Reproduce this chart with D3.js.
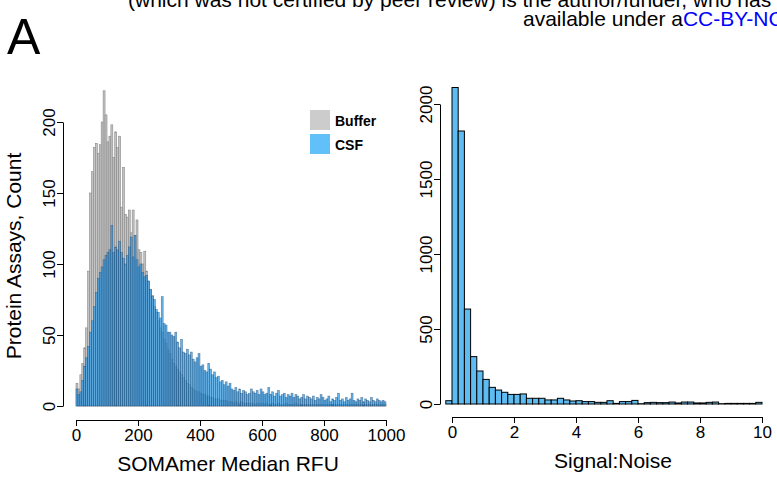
<!DOCTYPE html>
<html><head><meta charset="utf-8">
<script src="https://cdn.jsdelivr.net/npm/d3@7"></script>
<style>body{margin:0;background:#fff}svg{display:block}</style>
</head><body>
<svg id="c" width="777" height="480"></svg>
<script>
// Left histogram: SOMAmer Median RFU, bin width 6.25 from 0 to 1000
const rfuBinWidth = 6.25;
const bufferCounts = [16,12,22,30,41,55,95,150,165,182,185,178,184,200,222,205,186,190,198,175,
193,182,190,140,168,135,133,138,122,138,120,131,110,108,100,109,95,88,82,78,
70,66,60,55,52,47,44,40,37,33,30,28,26,24,22,20,18,16,15,13,
12,11,10,10,9,8,8,7,7,6,6,5,5,5,4,4,4,4,3,3,
3,2,3,2,2,3,2,2,2,2,2,2,1,2,2,1,2,1,2,1,
1,2,1,1,2,1,1,1,2,1,1,1,1,2,1,1,1,1,1,1,
1,1,1,1,1,1,1,1,1,1,1,1,1,1,1,1,1,1,1,1,
1,1,1,1,1,1,1,1,1,1,1,1,1,1,1,1,1,1,1,1];
const csfCounts = [12,8,10,18,28,34,42,52,60,70,80,90,94,98,103,106,108,110,127,108,
112,110,116,108,104,100,106,112,119,105,120,103,98,100,94,91,92,88,82,77,
75,68,66,62,77,58,57,52,52,50,49,52,45,41,47,38,37,40,36,38,
33,31,34,37,28,29,25,24,30,26,22,24,20,21,17,18,15,17,14,16,
12,11,13,10,12,9,11,10,8,9,12,10,9,11,8,12,10,8,9,13,
8,10,7,9,11,7,8,9,6,8,7,9,6,8,7,5,6,8,5,7,
6,5,7,4,6,5,8,6,4,5,7,3,5,4,6,9,4,5,3,6,
4,5,9,4,3,5,4,6,3,5,4,3,6,4,3,5,4,3,4,3];
const leftXTicks = [0,200,400,600,800,1000];
const leftYTicks = [0,50,100,150,200];
const legendLabels = ["Buffer","CSF"];

// Right histogram: Signal:Noise, bin width 0.2 from -0.2 to 10
const snStart = -0.2, snBinWidth = 0.2;
const snCounts = [22,2110,1820,633,316,220,164,111,93,78,64,64,67,38,38,38,27,27,38,27,
20,22,16,16,11,11,22,4,16,16,24,2,9,11,9,9,13,7,13,13,7,7,11,13,2,4,4,4,4,4,11];
const rightXTicks = [0,2,4,6,8,10];
const rightYTicks = [0,500,1000,1500,2000];

const svg = d3.select("#c");
const FONT = "'Liberation Sans', Arial, Helvetica, sans-serif";

// header
svg.append("text").attr("x",128).attr("y",7).attr("font-family",FONT)
  .attr("font-size",21).attr("fill","#000").text("(which was not certified by peer review) is the author/funder, who has");
const l2 = svg.append("text").attr("x",523).attr("y",26).attr("font-family",FONT)
  .attr("font-size",21).attr("fill","#000");
l2.append("tspan").text("available under a");
l2.append("tspan").attr("fill","#0000ff").text("CC-BY-NC-ND 4.0 International license");
svg.append("text").attr("x",7).attr("y",54).attr("font-family",FONT)
  .attr("font-size",50).attr("fill","#000").text("A");

// ---------- Left panel ----------
const xL = d3.scaleLinear().domain([0,1000]).range([76,386]);
const yL = d3.scaleLinear().domain([0,200]).range([406,122]);
const gL = svg.append("g");
function drawHist(counts, fill, stroke){
  gL.append("g").selectAll("rect").data(counts).join("rect")
    .attr("x",(d,i)=>xL(i*rfuBinWidth))
    .attr("width",(d,i)=>xL((i+1)*rfuBinWidth)-xL(i*rfuBinWidth))
    .attr("y",d=>yL(d)).attr("height",d=>yL(0)-yL(d))
    .attr("fill",fill).attr("stroke",stroke).attr("stroke-width",0.6);
}
drawHist(bufferCounts,"#c4c4c4","#888888");
drawHist(csfCounts,"rgba(55,155,225,0.75)","rgba(15,60,105,0.55)");

const fmt = d3.format("d");
function styleY(g, scale){
  g.selectAll("text").attr("font-family",FONT).attr("font-size",17).attr("fill","#000")
    .attr("text-anchor","middle").attr("dy",null).attr("transform","rotate(-90)")
    .attr("x",0).attr("y",-8);
}
// left y axis
const yAxL = svg.append("g").attr("transform","translate(63,0)")
  .call(d3.axisLeft(yL).tickValues(leftYTicks).tickFormat(fmt).tickSize(6).tickSizeOuter(0));
styleY(yAxL);

// left x axis
const xAxL = svg.append("g").attr("transform","translate(0,420)")
  .call(d3.axisBottom(xL).tickValues(leftXTicks).tickFormat(fmt).tickSize(6).tickSizeOuter(0));
xAxL.selectAll("text").attr("font-family",FONT).attr("font-size",17).attr("fill","#000").attr("y",9).attr("dy","0.71em");
svg.append("text").attr("x",228).attr("y",471).attr("text-anchor","middle").attr("font-family",FONT)
  .attr("font-size",21).text("SOMAmer Median RFU");
svg.append("text").attr("transform","translate(21,256) rotate(-90)").attr("text-anchor","middle")
  .attr("font-family",FONT).attr("font-size",21).text("Protein Assays, Count");

// legend
const legColors = ["#cccccc","#62c0f8"];
legendLabels.forEach((lab,i)=>{
  svg.append("rect").attr("x",310).attr("y",110+i*24).attr("width",20).attr("height",20).attr("fill",legColors[i]);
  svg.append("text").attr("x",335).attr("y",126+i*24).attr("font-family",FONT).attr("font-weight","bold")
    .attr("font-size",14).text(lab);
});

// ---------- Right panel ----------
const xR = d3.scaleLinear().domain([0,10]).range([452,762]);
const yR = d3.scaleLinear().domain([0,2000]).range([404,104]);
svg.append("g").selectAll("rect").data(snCounts).join("rect")
  .attr("x",(d,i)=>xR(snStart+i*snBinWidth))
  .attr("width",(d,i)=>xR(snStart+(i+1)*snBinWidth)-xR(snStart+i*snBinWidth))
  .attr("y",d=>yR(d)).attr("height",d=>yR(0)-yR(d))
  .attr("fill","#5ebcf2").attr("stroke","#000").attr("stroke-width",1);

const yAxR = svg.append("g").attr("transform","translate(440,0)")
  .call(d3.axisLeft(yR).tickValues(rightYTicks).tickFormat(fmt).tickSize(6).tickSizeOuter(0));
styleY(yAxR);
const xAxR = svg.append("g").attr("transform","translate(0,417)")
  .call(d3.axisBottom(xR).tickValues(rightXTicks).tickFormat(fmt).tickSize(6).tickSizeOuter(0));
xAxR.selectAll("text").attr("font-family",FONT).attr("font-size",17).attr("fill","#000").attr("y",9).attr("dy","0.71em");
svg.append("text").attr("x",613).attr("y",468).attr("text-anchor","middle").attr("font-family",FONT)
  .attr("font-size",21).text("Signal:Noise");
</script>
</body></html>
